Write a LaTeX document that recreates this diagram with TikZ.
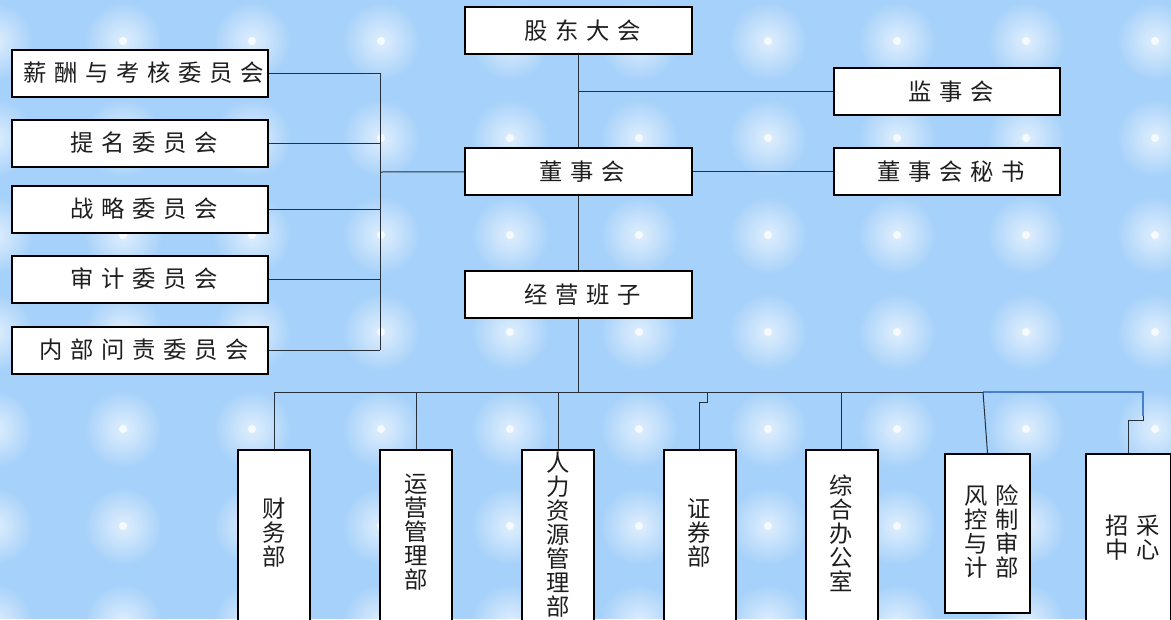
\documentclass[tikz,border=0pt]{standalone}
\usepackage{fontspec}
\usepackage{xcolor}
\usetikzlibrary{calc,fadings}
\newfontfamily\cjk[LetterSpace=33]{Noto Sans CJK SC}
\newfontfamily\cjkv{Noto Sans CJK SC}
\definecolor{sky}{HTML}{A6D1FA}
\definecolor{ink}{HTML}{1E1E1E}
\definecolor{wire}{HTML}{26303A}
\definecolor{accent}{HTML}{4A7FCC}
\tikzfading[name=glow, inner color=transparent!0, outer color=transparent!100]
\tikzset{
  box/.style={draw=black, fill=white, line width=1.5pt, inner sep=0pt, text=ink},
  topbox/.style={box, minimum width=170.25pt, minimum height=35.25pt, font=\cjk\fontsize{17.5}{18}\selectfont},
  sidebox/.style={topbox, minimum width=169.5pt},
  combox/.style={topbox, minimum width=192pt},
  dept/.style={box, anchor=north, minimum width=54pt, minimum height=150pt},
  deptw/.style={dept, minimum width=63.75pt, minimum height=119.25pt},
  vlab/.style={text=ink, align=center, inner sep=0pt, font=\cjkv\fontsize{17.5}{18}\selectfont},
  vlabw/.style={vlab, font=\cjk\fontsize{17.5}{18}\selectfont},
  link/.style={draw=wire, line width=0.75pt},
  linkb/.style={draw=accent, line width=2.2pt}
}

\begin{document}
\begin{tikzpicture}[x=0.75pt,y=-0.75pt]
  % background
  \fill[sky] (0,0) rectangle (1171,619);
  \useasboundingbox (0,0) rectangle (1171,619);
  \foreach \i in {-1,...,9} {
    \foreach \j in {0,...,6} {
      \fill[white, path fading=glow, fill opacity=0.65] (123+129*\i,41+97*\j) circle (30pt);
      \fill[white, fill opacity=0.75] (123+129*\i,41+97*\j) circle (3pt);
    }
  }

  % top part
  \node[topbox] (gd) at (578.5,30.5) {股东大会\kern-5.8pt};
  \node[sidebox] (js) at (947,91.5) {监事会\kern-5.8pt};
  \node[topbox] (dsh) at (578.5,171.5) {董事会\kern-5.8pt};
  \node[sidebox] (ms) at (947,171.5) {董事会秘书\kern-5.8pt};
  \node[topbox] (jy) at (578.5,294.5) {经营班子\kern-5.8pt};

  % committees
  \node[combox] (xc) at (140,73) {薪酬与考核委员会\kern-5.8pt};
  \node[combox] (tm) at (140,143) {提名委员会\kern-5.8pt};
  \node[combox] (zl) at (140,209) {战略委员会\kern-5.8pt};
  \node[combox] (sj) at (140,279) {审计委员会\kern-5.8pt};
  \node[combox] (nb) at (140,350) {内部问责委员会\kern-5.8pt};

  % departments
  \node[dept] (cw) at (274,449) {};
  \node[dept] (yy) at (416,449) {};
  \node[dept] (rl) at (558,449) {};
  \node[dept] (zq) at (699.5,449) {};
  \node[dept] (zh) at (841.5,449) {};
  \node[deptw] (fx) at (987.5,453) {};
  \node[deptw, minimum height=150pt] (zc) at (1128.5,453) {};
  \node[vlab] (cwt) at (274,533) {财\\务\\部};
  \node[vlab] (yyt) at (416,532) {运\\营\\管\\理\\部};
  \node[vlab] (rlt) at (558,535) {人\\力\\资\\源\\管\\理\\部};
  \node[vlab] (zqt) at (699.5,533) {证\\券\\部};
  \node[vlab] (zht) at (841.5,533) {综\\合\\办\\公\\室};
  \node[vlabw] (fxt) at (987.5,532) {风险\kern-5.8pt\\控制\kern-5.8pt\\与审\kern-5.8pt\\计部\kern-5.8pt};
  \node[vlabw] (zct) at (1128.5,538) {招采\kern-5.8pt\\中心\kern-5.8pt};

  \coordinate (lbus) at (380,172);
  \coordinate (bus) at (578.5,392);
  \coordinate (bl) at (274,392);
  \coordinate (br) at (983,392);
  \coordinate (bz) at (1143,392);
  \coordinate (zqk) at (707,402);

  % links
  \draw[link] (gd) -- (dsh) -- (jy) -- (bus);
  \draw[link] (js) -- (js.west -| gd.south);
  \draw[link] (dsh) -- (ms);
  \draw[link] (lbus) -- (dsh);
  \foreach \n in {xc,tm,zl,sj,nb}
    \draw[link] (\n) -- (\n.east -| lbus);
  \draw[link] (xc.east -| lbus) -- (nb.east -| lbus);
  \draw[link] (bl) -- (br);
  \draw[linkb] (br) -- (bz) -- ++(0,24) coordinate (bzd);
  \foreach \n in {cw,yy,rl,zh}
    \draw[link] (\n.north) -- (\n.north |- bus);
  \draw[link] (zq.north) |- (zqk) -- (zqk |- bus);
  \draw[link] (br) -- (fx.north);
  \draw[link] (bzd) -- ++(0,4) -| (zc.north);
\end{tikzpicture}
\end{document}
